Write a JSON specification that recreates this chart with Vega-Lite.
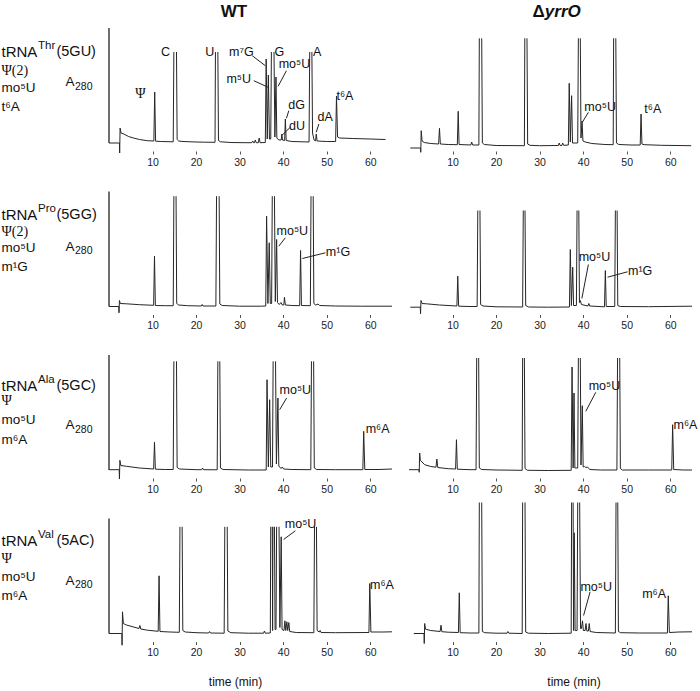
{
"$schema": "https://vega.github.io/schema/vega-lite/v6.json",
"padding": {"left": 1, "top": 3, "right": 0, "bottom": 2},
"background": "white",
"data": {"values": [
{"r":1,"c":"WT","s":0,"t":0,"a":0},{"r":1,"c":"WT","s":0,"t":2.4,"a":0},{"r":1,"c":"WT","s":0,"t":2.45,"a":-10},{"r":1,"c":"WT","s":0,"t":2.55,"a":15},{"r":1,"c":"WT","s":0,"t":2.75,"a":10},{"r":1,"c":"WT","s":0,"t":3.4,"a":9},{"r":1,"c":"WT","s":0,"t":4.5,"a":6.5},{"r":1,"c":"WT","s":0,"t":5.6,"a":5},{"r":1,"c":"WT","s":0,"t":7,"a":3.5},{"r":1,"c":"WT","s":0,"t":8.8,"a":2.3},{"r":1,"c":"WT","s":0,"t":10.3,"a":2},{"r":1,"c":"WT","s":0,"t":10.5,"a":51},{"r":1,"c":"WT","s":0,"t":10.7,"a":1.8},{"r":1,"c":"WT","s":0,"t":12,"a":1.5},{"r":1,"c":"WT","s":0,"t":14.75,"a":1.2},{"r":1,"c":"WT","s":0,"t":14.9,"a":91},
{"r":1,"c":"WT","s":1,"t":15.5,"a":91},{"r":1,"c":"WT","s":1,"t":15.65,"a":3.5},{"r":1,"c":"WT","s":1,"t":16,"a":2},{"r":1,"c":"WT","s":1,"t":17,"a":1.5},{"r":1,"c":"WT","s":1,"t":20,"a":1},{"r":1,"c":"WT","s":1,"t":22,"a":0.8},{"r":1,"c":"WT","s":1,"t":24.35,"a":0.7},{"r":1,"c":"WT","s":1,"t":24.45,"a":91},
{"r":1,"c":"WT","s":2,"t":25.0,"a":91},{"r":1,"c":"WT","s":2,"t":25.15,"a":2.5},{"r":1,"c":"WT","s":2,"t":25.6,"a":1.2},{"r":1,"c":"WT","s":2,"t":28,"a":0.5},{"r":1,"c":"WT","s":2,"t":31,"a":0.3},{"r":1,"c":"WT","s":2,"t":32.8,"a":0.3},{"r":1,"c":"WT","s":2,"t":33.0,"a":2},{"r":1,"c":"WT","s":2,"t":33.2,"a":0.3},{"r":1,"c":"WT","s":2,"t":33.4,"a":0.3},{"r":1,"c":"WT","s":2,"t":33.6,"a":3},{"r":1,"c":"WT","s":2,"t":33.8,"a":0.3},{"r":1,"c":"WT","s":2,"t":34.3,"a":0.3},{"r":1,"c":"WT","s":2,"t":34.5,"a":5},{"r":1,"c":"WT","s":2,"t":34.7,"a":0.3},{"r":1,"c":"WT","s":2,"t":35.9,"a":0.5},{"r":1,"c":"WT","s":2,"t":36.1,"a":84},{"r":1,"c":"WT","s":2,"t":36.35,"a":4},{"r":1,"c":"WT","s":2,"t":36.6,"a":68},{"r":1,"c":"WT","s":2,"t":36.85,"a":4},{"r":1,"c":"WT","s":2,"t":37.15,"a":4},{"r":1,"c":"WT","s":2,"t":37.3,"a":91},
{"r":1,"c":"WT","s":3,"t":37.9,"a":91},{"r":1,"c":"WT","s":3,"t":38.1,"a":6},{"r":1,"c":"WT","s":3,"t":38.35,"a":66},{"r":1,"c":"WT","s":3,"t":38.55,"a":5},{"r":1,"c":"WT","s":3,"t":39.0,"a":3},{"r":1,"c":"WT","s":3,"t":39.55,"a":3},{"r":1,"c":"WT","s":3,"t":39.7,"a":9},{"r":1,"c":"WT","s":3,"t":39.85,"a":3},{"r":1,"c":"WT","s":3,"t":40.35,"a":2.5},{"r":1,"c":"WT","s":3,"t":40.5,"a":24},{"r":1,"c":"WT","s":3,"t":40.7,"a":2.5},{"r":1,"c":"WT","s":3,"t":42,"a":1.5},{"r":1,"c":"WT","s":3,"t":45.95,"a":1},{"r":1,"c":"WT","s":3,"t":46.1,"a":91},
{"r":1,"c":"WT","s":4,"t":46.6,"a":91},{"r":1,"c":"WT","s":4,"t":46.75,"a":10},{"r":1,"c":"WT","s":4,"t":47.1,"a":3},{"r":1,"c":"WT","s":4,"t":47.45,"a":2},{"r":1,"c":"WT","s":4,"t":47.6,"a":9},{"r":1,"c":"WT","s":4,"t":47.8,"a":2},{"r":1,"c":"WT","s":4,"t":50,"a":1.5},{"r":1,"c":"WT","s":4,"t":52.05,"a":1.5},{"r":1,"c":"WT","s":4,"t":52.25,"a":47},{"r":1,"c":"WT","s":4,"t":52.5,"a":6},{"r":1,"c":"WT","s":4,"t":53,"a":5},{"r":1,"c":"WT","s":4,"t":56,"a":4.5},{"r":1,"c":"WT","s":4,"t":60,"a":4},{"r":1,"c":"WT","s":4,"t":63.5,"a":3.5},

{"r":1,"c":"D","s":0,"t":0.3,"a":-5},{"r":1,"c":"D","s":0,"t":2.65,"a":-5},{"r":1,"c":"D","s":0,"t":2.7,"a":-9.3},{"r":1,"c":"D","s":0,"t":2.8,"a":12.3},{"r":1,"c":"D","s":0,"t":3.0,"a":2},{"r":1,"c":"D","s":0,"t":3.5,"a":0.5},{"r":1,"c":"D","s":0,"t":5,"a":-0.5},{"r":1,"c":"D","s":0,"t":6.8,"a":-1},{"r":1,"c":"D","s":0,"t":7.0,"a":14.7},{"r":1,"c":"D","s":0,"t":7.2,"a":-1},{"r":1,"c":"D","s":0,"t":9,"a":-1.5},{"r":1,"c":"D","s":0,"t":11.1,"a":-1.7},{"r":1,"c":"D","s":0,"t":11.3,"a":31.7},{"r":1,"c":"D","s":0,"t":11.5,"a":-1.5},{"r":1,"c":"D","s":0,"t":14.2,"a":-2},{"r":1,"c":"D","s":0,"t":14.4,"a":1},{"r":1,"c":"D","s":0,"t":14.6,"a":-2},{"r":1,"c":"D","s":0,"t":16.05,"a":-2},{"r":1,"c":"D","s":0,"t":16.15,"a":104.7},
{"r":1,"c":"D","s":1,"t":16.7,"a":104.7},{"r":1,"c":"D","s":1,"t":16.85,"a":0},{"r":1,"c":"D","s":1,"t":17.3,"a":-1.5},{"r":1,"c":"D","s":1,"t":20,"a":-2.5},{"r":1,"c":"D","s":1,"t":26.5,"a":-2.7},{"r":1,"c":"D","s":1,"t":26.6,"a":104.7},
{"r":1,"c":"D","s":2,"t":27.1,"a":104.7},{"r":1,"c":"D","s":2,"t":27.25,"a":-1},{"r":1,"c":"D","s":2,"t":27.8,"a":-2.3},{"r":1,"c":"D","s":2,"t":30,"a":-2.7},{"r":1,"c":"D","s":2,"t":34.3,"a":-2.5},{"r":1,"c":"D","s":2,"t":34.5,"a":0},{"r":1,"c":"D","s":2,"t":34.7,"a":-2.5},{"r":1,"c":"D","s":2,"t":35.1,"a":-2.5},{"r":1,"c":"D","s":2,"t":35.3,"a":0},{"r":1,"c":"D","s":2,"t":35.5,"a":-2.3},{"r":1,"c":"D","s":2,"t":36.6,"a":-2},{"r":1,"c":"D","s":2,"t":36.8,"a":59.7},{"r":1,"c":"D","s":2,"t":37.05,"a":1},{"r":1,"c":"D","s":2,"t":37.35,"a":47.3},{"r":1,"c":"D","s":2,"t":37.55,"a":0},{"r":1,"c":"D","s":2,"t":38.75,"a":0},{"r":1,"c":"D","s":2,"t":38.9,"a":104.7},
{"r":1,"c":"D","s":3,"t":39.35,"a":104.7},{"r":1,"c":"D","s":3,"t":39.5,"a":5},{"r":1,"c":"D","s":3,"t":39.75,"a":22},{"r":1,"c":"D","s":3,"t":39.95,"a":2},{"r":1,"c":"D","s":3,"t":40.5,"a":1},{"r":1,"c":"D","s":3,"t":42,"a":-0.5},{"r":1,"c":"D","s":3,"t":45,"a":-1.5},{"r":1,"c":"D","s":3,"t":46.9,"a":-1.7},{"r":1,"c":"D","s":3,"t":47.0,"a":104.7},
{"r":1,"c":"D","s":4,"t":47.5,"a":104.7},{"r":1,"c":"D","s":4,"t":47.65,"a":0},{"r":1,"c":"D","s":4,"t":48.2,"a":-1.5},{"r":1,"c":"D","s":4,"t":51,"a":-2},{"r":1,"c":"D","s":4,"t":53.1,"a":-2},{"r":1,"c":"D","s":4,"t":53.3,"a":29},{"r":1,"c":"D","s":4,"t":53.5,"a":-1},{"r":1,"c":"D","s":4,"t":54,"a":-1.7},{"r":1,"c":"D","s":4,"t":58,"a":-2.3},{"r":1,"c":"D","s":4,"t":64.8,"a":-2.7},

{"r":2,"c":"WT","s":0,"t":0,"a":0},{"r":2,"c":"WT","s":0,"t":2.25,"a":0},{"r":2,"c":"WT","s":0,"t":2.3,"a":-6.3},{"r":2,"c":"WT","s":0,"t":2.4,"a":6},{"r":2,"c":"WT","s":0,"t":2.6,"a":3},{"r":2,"c":"WT","s":0,"t":4,"a":2.7},{"r":2,"c":"WT","s":0,"t":7,"a":1.8},{"r":2,"c":"WT","s":0,"t":10.25,"a":1.2},{"r":2,"c":"WT","s":0,"t":10.45,"a":50.3},{"r":2,"c":"WT","s":0,"t":10.65,"a":1},{"r":2,"c":"WT","s":0,"t":13,"a":0.8},{"r":2,"c":"WT","s":0,"t":14.75,"a":0.8},{"r":2,"c":"WT","s":0,"t":14.9,"a":110.3},
{"r":2,"c":"WT","s":1,"t":15.4,"a":110.3},{"r":2,"c":"WT","s":1,"t":15.55,"a":3},{"r":2,"c":"WT","s":1,"t":16,"a":1.5},{"r":2,"c":"WT","s":1,"t":18,"a":0.8},{"r":2,"c":"WT","s":1,"t":21.2,"a":0.5},{"r":2,"c":"WT","s":1,"t":21.4,"a":2},{"r":2,"c":"WT","s":1,"t":21.6,"a":0.5},{"r":2,"c":"WT","s":1,"t":24.55,"a":0.5},{"r":2,"c":"WT","s":1,"t":24.7,"a":110.3},
{"r":2,"c":"WT","s":2,"t":25.3,"a":110.3},{"r":2,"c":"WT","s":2,"t":25.45,"a":2.5},{"r":2,"c":"WT","s":2,"t":26,"a":1},{"r":2,"c":"WT","s":2,"t":30,"a":0.3},{"r":2,"c":"WT","s":2,"t":35,"a":0.3},{"r":2,"c":"WT","s":2,"t":36.0,"a":0.5},{"r":2,"c":"WT","s":2,"t":36.2,"a":90.3},{"r":2,"c":"WT","s":2,"t":36.5,"a":3},{"r":2,"c":"WT","s":2,"t":36.8,"a":63.7},{"r":2,"c":"WT","s":2,"t":37.05,"a":3},{"r":2,"c":"WT","s":2,"t":37.35,"a":3},{"r":2,"c":"WT","s":2,"t":37.5,"a":110.3},
{"r":2,"c":"WT","s":3,"t":38.0,"a":110.3},{"r":2,"c":"WT","s":3,"t":38.2,"a":5},{"r":2,"c":"WT","s":3,"t":38.5,"a":67},{"r":2,"c":"WT","s":3,"t":38.7,"a":4},{"r":2,"c":"WT","s":3,"t":39.1,"a":2},{"r":2,"c":"WT","s":3,"t":39.5,"a":4},{"r":2,"c":"WT","s":3,"t":39.8,"a":1.5},{"r":2,"c":"WT","s":3,"t":40.15,"a":1.5},{"r":2,"c":"WT","s":3,"t":40.3,"a":9.3},{"r":2,"c":"WT","s":3,"t":40.5,"a":1.5},{"r":2,"c":"WT","s":3,"t":42,"a":1},{"r":2,"c":"WT","s":3,"t":43.8,"a":0.8},{"r":2,"c":"WT","s":3,"t":44.0,"a":56},{"r":2,"c":"WT","s":3,"t":44.2,"a":1},{"r":2,"c":"WT","s":3,"t":46.25,"a":0.8},{"r":2,"c":"WT","s":3,"t":46.4,"a":110.3},
{"r":2,"c":"WT","s":4,"t":46.9,"a":110.3},{"r":2,"c":"WT","s":4,"t":47.05,"a":3},{"r":2,"c":"WT","s":4,"t":47.5,"a":1.5},{"r":2,"c":"WT","s":4,"t":48,"a":2.5},{"r":2,"c":"WT","s":4,"t":48.4,"a":1},{"r":2,"c":"WT","s":4,"t":52,"a":0.5},{"r":2,"c":"WT","s":4,"t":58,"a":0.3},{"r":2,"c":"WT","s":4,"t":65,"a":0.3},

{"r":2,"c":"D","s":0,"t":0.3,"a":-0.7},{"r":2,"c":"D","s":0,"t":2.6,"a":-0.7},{"r":2,"c":"D","s":0,"t":2.65,"a":-7.3},{"r":2,"c":"D","s":0,"t":2.75,"a":6},{"r":2,"c":"D","s":0,"t":3,"a":3},{"r":2,"c":"D","s":0,"t":4,"a":2.7},{"r":2,"c":"D","s":0,"t":7,"a":1.5},{"r":2,"c":"D","s":0,"t":11.0,"a":0.5},{"r":2,"c":"D","s":0,"t":11.2,"a":30.3},{"r":2,"c":"D","s":0,"t":11.4,"a":0.3},{"r":2,"c":"D","s":0,"t":14,"a":0},{"r":2,"c":"D","s":0,"t":15.65,"a":0},{"r":2,"c":"D","s":0,"t":15.8,"a":96},
{"r":2,"c":"D","s":1,"t":16.3,"a":96},{"r":2,"c":"D","s":1,"t":16.45,"a":2},{"r":2,"c":"D","s":1,"t":17,"a":0.5},{"r":2,"c":"D","s":1,"t":20,"a":-0.3},{"r":2,"c":"D","s":1,"t":26.1,"a":-0.5},{"r":2,"c":"D","s":1,"t":26.25,"a":96},
{"r":2,"c":"D","s":2,"t":26.65,"a":96},{"r":2,"c":"D","s":2,"t":26.8,"a":1},{"r":2,"c":"D","s":2,"t":27.5,"a":-0.5},{"r":2,"c":"D","s":2,"t":32,"a":-0.7},{"r":2,"c":"D","s":2,"t":36.85,"a":-0.5},{"r":2,"c":"D","s":2,"t":37.05,"a":57},{"r":2,"c":"D","s":2,"t":37.3,"a":1},{"r":2,"c":"D","s":2,"t":37.6,"a":39.3},{"r":2,"c":"D","s":2,"t":37.8,"a":1},{"r":2,"c":"D","s":2,"t":38.45,"a":1},{"r":2,"c":"D","s":2,"t":38.6,"a":96},
{"r":2,"c":"D","s":3,"t":39.0,"a":96},{"r":2,"c":"D","s":3,"t":39.15,"a":4},{"r":2,"c":"D","s":3,"t":39.35,"a":6},{"r":2,"c":"D","s":3,"t":39.6,"a":2},{"r":2,"c":"D","s":3,"t":41.1,"a":0.5},{"r":2,"c":"D","s":3,"t":41.3,"a":3},{"r":2,"c":"D","s":3,"t":41.5,"a":0.5},{"r":2,"c":"D","s":3,"t":44.9,"a":-0.3},{"r":2,"c":"D","s":3,"t":45.1,"a":36},{"r":2,"c":"D","s":3,"t":45.3,"a":0},{"r":2,"c":"D","s":3,"t":47.25,"a":0},{"r":2,"c":"D","s":3,"t":47.4,"a":96},
{"r":2,"c":"D","s":4,"t":47.8,"a":96},{"r":2,"c":"D","s":4,"t":47.95,"a":1},{"r":2,"c":"D","s":4,"t":48.5,"a":0},{"r":2,"c":"D","s":4,"t":55,"a":-0.2},{"r":2,"c":"D","s":4,"t":65,"a":0.3},

{"r":3,"c":"WT","s":0,"t":0,"a":0.3},{"r":3,"c":"WT","s":0,"t":2.35,"a":0.3},{"r":3,"c":"WT","s":0,"t":2.4,"a":-9},{"r":3,"c":"WT","s":0,"t":2.5,"a":9.7},{"r":3,"c":"WT","s":0,"t":2.7,"a":4.5},{"r":3,"c":"WT","s":0,"t":4,"a":3.7},{"r":3,"c":"WT","s":0,"t":7,"a":2},{"r":3,"c":"WT","s":0,"t":10.25,"a":1},{"r":3,"c":"WT","s":0,"t":10.45,"a":27.7},{"r":3,"c":"WT","s":0,"t":10.65,"a":0.8},{"r":3,"c":"WT","s":0,"t":13,"a":0.5},{"r":3,"c":"WT","s":0,"t":14.75,"a":0.5},{"r":3,"c":"WT","s":0,"t":14.9,"a":108.7},
{"r":3,"c":"WT","s":1,"t":15.5,"a":108.7},{"r":3,"c":"WT","s":1,"t":15.65,"a":2.5},{"r":3,"c":"WT","s":1,"t":16.2,"a":1},{"r":3,"c":"WT","s":1,"t":20,"a":0.3},{"r":3,"c":"WT","s":1,"t":21.3,"a":0.3},{"r":3,"c":"WT","s":1,"t":21.5,"a":2},{"r":3,"c":"WT","s":1,"t":21.7,"a":0.3},{"r":3,"c":"WT","s":1,"t":24.85,"a":0.2},{"r":3,"c":"WT","s":1,"t":25.0,"a":108.7},
{"r":3,"c":"WT","s":2,"t":25.45,"a":108.7},{"r":3,"c":"WT","s":2,"t":25.6,"a":2},{"r":3,"c":"WT","s":2,"t":26.2,"a":0.5},{"r":3,"c":"WT","s":2,"t":32,"a":0},{"r":3,"c":"WT","s":2,"t":36.1,"a":0},{"r":3,"c":"WT","s":2,"t":36.3,"a":90.3},{"r":3,"c":"WT","s":2,"t":36.6,"a":3},{"r":3,"c":"WT","s":2,"t":36.9,"a":70.3},{"r":3,"c":"WT","s":2,"t":37.15,"a":3},{"r":3,"c":"WT","s":2,"t":37.55,"a":3},{"r":3,"c":"WT","s":2,"t":37.7,"a":108.7},
{"r":3,"c":"WT","s":3,"t":38.25,"a":108.7},{"r":3,"c":"WT","s":3,"t":38.45,"a":6},{"r":3,"c":"WT","s":3,"t":38.8,"a":72},{"r":3,"c":"WT","s":3,"t":39.0,"a":4},{"r":3,"c":"WT","s":3,"t":39.5,"a":1.5},{"r":3,"c":"WT","s":3,"t":39.8,"a":3},{"r":3,"c":"WT","s":3,"t":40.1,"a":1},{"r":3,"c":"WT","s":3,"t":42,"a":0.5},{"r":3,"c":"WT","s":3,"t":46.35,"a":0.3},{"r":3,"c":"WT","s":3,"t":46.5,"a":108.7},
{"r":3,"c":"WT","s":4,"t":47.0,"a":108.7},{"r":3,"c":"WT","s":4,"t":47.15,"a":2},{"r":3,"c":"WT","s":4,"t":47.7,"a":0.5},{"r":3,"c":"WT","s":4,"t":52,"a":0.3},{"r":3,"c":"WT","s":4,"t":58.3,"a":0.3},{"r":3,"c":"WT","s":4,"t":58.5,"a":38.7},{"r":3,"c":"WT","s":4,"t":58.75,"a":0.5},{"r":3,"c":"WT","s":4,"t":62,"a":0.5},{"r":3,"c":"WT","s":4,"t":65,"a":1},

{"r":3,"c":"D","s":0,"t":0,"a":0.3},{"r":3,"c":"D","s":0,"t":2.3,"a":0.3},{"r":3,"c":"D","s":0,"t":2.35,"a":-2.3},{"r":3,"c":"D","s":0,"t":2.45,"a":17},{"r":3,"c":"D","s":0,"t":2.6,"a":9.7},{"r":3,"c":"D","s":0,"t":3.6,"a":5.3},{"r":3,"c":"D","s":0,"t":5,"a":3.5},{"r":3,"c":"D","s":0,"t":6.2,"a":2.8},{"r":3,"c":"D","s":0,"t":6.4,"a":11},{"r":3,"c":"D","s":0,"t":6.6,"a":2.5},{"r":3,"c":"D","s":0,"t":9,"a":1.3},{"r":3,"c":"D","s":0,"t":10.7,"a":1},{"r":3,"c":"D","s":0,"t":10.9,"a":30.3},{"r":3,"c":"D","s":0,"t":11.1,"a":0.8},{"r":3,"c":"D","s":0,"t":14,"a":0.3},{"r":3,"c":"D","s":0,"t":15.4,"a":0.3},{"r":3,"c":"D","s":0,"t":15.55,"a":112},
{"r":3,"c":"D","s":1,"t":16.0,"a":112},{"r":3,"c":"D","s":1,"t":16.15,"a":2},{"r":3,"c":"D","s":1,"t":16.7,"a":0.5},{"r":3,"c":"D","s":1,"t":20,"a":0},{"r":3,"c":"D","s":1,"t":26.0,"a":-0.3},{"r":3,"c":"D","s":1,"t":26.1,"a":112},
{"r":3,"c":"D","s":2,"t":26.5,"a":112},{"r":3,"c":"D","s":2,"t":26.65,"a":1.5},{"r":3,"c":"D","s":2,"t":27.2,"a":-0.3},{"r":3,"c":"D","s":2,"t":32,"a":-0.5},{"r":3,"c":"D","s":2,"t":37.25,"a":-0.3},{"r":3,"c":"D","s":2,"t":37.45,"a":103},{"r":3,"c":"D","s":2,"t":37.7,"a":2},{"r":3,"c":"D","s":2,"t":37.9,"a":77},{"r":3,"c":"D","s":2,"t":38.1,"a":2},{"r":3,"c":"D","s":2,"t":38.75,"a":2},{"r":3,"c":"D","s":2,"t":38.9,"a":112},
{"r":3,"c":"D","s":3,"t":39.35,"a":112},{"r":3,"c":"D","s":3,"t":39.5,"a":5},{"r":3,"c":"D","s":3,"t":39.8,"a":64.3},{"r":3,"c":"D","s":3,"t":40.0,"a":3},{"r":3,"c":"D","s":3,"t":40.3,"a":3.5},{"r":3,"c":"D","s":3,"t":40.6,"a":2.5},{"r":3,"c":"D","s":3,"t":41,"a":3},{"r":3,"c":"D","s":3,"t":41.5,"a":0.5},{"r":3,"c":"D","s":3,"t":44,"a":0},{"r":3,"c":"D","s":3,"t":47.75,"a":0},{"r":3,"c":"D","s":3,"t":47.9,"a":112},
{"r":3,"c":"D","s":4,"t":48.4,"a":112},{"r":3,"c":"D","s":4,"t":48.55,"a":1.5},{"r":3,"c":"D","s":4,"t":49,"a":0},{"r":3,"c":"D","s":4,"t":55,"a":0},{"r":3,"c":"D","s":4,"t":60.35,"a":0},{"r":3,"c":"D","s":4,"t":60.55,"a":45.3},{"r":3,"c":"D","s":4,"t":60.8,"a":0.5},{"r":3,"c":"D","s":4,"t":63,"a":0},{"r":3,"c":"D","s":4,"t":65,"a":0},

{"r":4,"c":"WT","s":0,"t":0,"a":0},{"r":4,"c":"WT","s":0,"t":2.95,"a":0},{"r":4,"c":"WT","s":0,"t":3.0,"a":-11.7},{"r":4,"c":"WT","s":0,"t":3.1,"a":21.7},{"r":4,"c":"WT","s":0,"t":3.3,"a":10},{"r":4,"c":"WT","s":0,"t":4.0,"a":8.5},{"r":4,"c":"WT","s":0,"t":5.5,"a":6.7},{"r":4,"c":"WT","s":0,"t":6.9,"a":5},{"r":4,"c":"WT","s":0,"t":7.1,"a":8},{"r":4,"c":"WT","s":0,"t":7.3,"a":4.5},{"r":4,"c":"WT","s":0,"t":8.8,"a":3.3},{"r":4,"c":"WT","s":0,"t":11.3,"a":2.2},{"r":4,"c":"WT","s":0,"t":11.5,"a":57.7},{"r":4,"c":"WT","s":0,"t":11.7,"a":2},{"r":4,"c":"WT","s":0,"t":14,"a":1.5},{"r":4,"c":"WT","s":0,"t":16.15,"a":1.2},{"r":4,"c":"WT","s":0,"t":16.3,"a":106.7},
{"r":4,"c":"WT","s":1,"t":16.8,"a":106.7},{"r":4,"c":"WT","s":1,"t":16.95,"a":3},{"r":4,"c":"WT","s":1,"t":17.5,"a":1.5},{"r":4,"c":"WT","s":1,"t":20,"a":0.8},{"r":4,"c":"WT","s":1,"t":22.9,"a":0.5},{"r":4,"c":"WT","s":1,"t":23.1,"a":2},{"r":4,"c":"WT","s":1,"t":23.3,"a":0.5},{"r":4,"c":"WT","s":1,"t":26.45,"a":0.3},{"r":4,"c":"WT","s":1,"t":26.6,"a":106.7},
{"r":4,"c":"WT","s":2,"t":27.15,"a":106.7},{"r":4,"c":"WT","s":2,"t":27.3,"a":2.5},{"r":4,"c":"WT","s":2,"t":28,"a":0.8},{"r":4,"c":"WT","s":2,"t":32,"a":0.3},{"r":4,"c":"WT","s":2,"t":35.5,"a":0.3},{"r":4,"c":"WT","s":2,"t":35.7,"a":2.5},{"r":4,"c":"WT","s":2,"t":35.9,"a":0.3},{"r":4,"c":"WT","s":2,"t":37.05,"a":0.5},{"r":4,"c":"WT","s":2,"t":37.15,"a":106.7},
{"r":4,"c":"WT","s":3,"t":37.5,"a":106.7},{"r":4,"c":"WT","s":3,"t":37.58,"a":3},{"r":4,"c":"WT","s":3,"t":37.65,"a":106.7},
{"r":4,"c":"WT","s":4,"t":38.0,"a":106.7},{"r":4,"c":"WT","s":4,"t":38.15,"a":4},{"r":4,"c":"WT","s":4,"t":38.35,"a":4},{"r":4,"c":"WT","s":4,"t":38.5,"a":106.7},
{"r":4,"c":"WT","s":5,"t":39.05,"a":106.7},{"r":4,"c":"WT","s":5,"t":39.25,"a":6},{"r":4,"c":"WT","s":5,"t":39.55,"a":96.7},{"r":4,"c":"WT","s":5,"t":39.75,"a":4},{"r":4,"c":"WT","s":5,"t":40.2,"a":3},{"r":4,"c":"WT","s":5,"t":40.4,"a":12.7},{"r":4,"c":"WT","s":5,"t":40.6,"a":3},{"r":4,"c":"WT","s":5,"t":40.85,"a":11.7},{"r":4,"c":"WT","s":5,"t":41.05,"a":3},{"r":4,"c":"WT","s":5,"t":41.3,"a":11},{"r":4,"c":"WT","s":5,"t":41.5,"a":2},{"r":4,"c":"WT","s":5,"t":43,"a":1},{"r":4,"c":"WT","s":5,"t":47.05,"a":0.8},{"r":4,"c":"WT","s":5,"t":47.2,"a":106.7},
{"r":4,"c":"WT","s":6,"t":47.65,"a":106.7},{"r":4,"c":"WT","s":6,"t":47.8,"a":3},{"r":4,"c":"WT","s":6,"t":48.3,"a":1.5},{"r":4,"c":"WT","s":6,"t":48.5,"a":3},{"r":4,"c":"WT","s":6,"t":48.7,"a":1},{"r":4,"c":"WT","s":6,"t":52,"a":0.8},{"r":4,"c":"WT","s":6,"t":59.7,"a":1},{"r":4,"c":"WT","s":6,"t":59.9,"a":50},{"r":4,"c":"WT","s":6,"t":60.15,"a":1.5},{"r":4,"c":"WT","s":6,"t":63,"a":1.5},{"r":4,"c":"WT","s":6,"t":65,"a":1.7},

{"r":4,"c":"D","s":0,"t":1.1,"a":0},{"r":4,"c":"D","s":0,"t":3.45,"a":0},{"r":4,"c":"D","s":0,"t":3.5,"a":-10},{"r":4,"c":"D","s":0,"t":3.6,"a":10},{"r":4,"c":"D","s":0,"t":3.8,"a":4.3},{"r":4,"c":"D","s":0,"t":5,"a":3},{"r":4,"c":"D","s":0,"t":7.15,"a":2},{"r":4,"c":"D","s":0,"t":7.35,"a":8.3},{"r":4,"c":"D","s":0,"t":7.55,"a":1.8},{"r":4,"c":"D","s":0,"t":9,"a":1.3},{"r":4,"c":"D","s":0,"t":11.35,"a":1},{"r":4,"c":"D","s":0,"t":11.55,"a":40.7},{"r":4,"c":"D","s":0,"t":11.75,"a":0.8},{"r":4,"c":"D","s":0,"t":14,"a":0.5},{"r":4,"c":"D","s":0,"t":16.05,"a":0.5},{"r":4,"c":"D","s":0,"t":16.15,"a":131},
{"r":4,"c":"D","s":1,"t":16.7,"a":131},{"r":4,"c":"D","s":1,"t":16.85,"a":2},{"r":4,"c":"D","s":1,"t":17.4,"a":0.8},{"r":4,"c":"D","s":1,"t":20,"a":0.3},{"r":4,"c":"D","s":1,"t":22.5,"a":0.3},{"r":4,"c":"D","s":1,"t":22.7,"a":2},{"r":4,"c":"D","s":1,"t":22.9,"a":0.3},{"r":4,"c":"D","s":1,"t":26.0,"a":0},{"r":4,"c":"D","s":1,"t":26.1,"a":131},
{"r":4,"c":"D","s":2,"t":26.65,"a":131},{"r":4,"c":"D","s":2,"t":26.8,"a":1.5},{"r":4,"c":"D","s":2,"t":27.4,"a":0.3},{"r":4,"c":"D","s":2,"t":32,"a":0},{"r":4,"c":"D","s":2,"t":37.25,"a":0.3},{"r":4,"c":"D","s":2,"t":37.35,"a":131},
{"r":4,"c":"D","s":3,"t":37.7,"a":131},{"r":4,"c":"D","s":3,"t":37.8,"a":3},{"r":4,"c":"D","s":3,"t":37.95,"a":100.7},{"r":4,"c":"D","s":3,"t":38.15,"a":3},{"r":4,"c":"D","s":3,"t":38.6,"a":3},{"r":4,"c":"D","s":3,"t":38.75,"a":131},
{"r":4,"c":"D","s":4,"t":39.2,"a":131},{"r":4,"c":"D","s":4,"t":39.4,"a":5},{"r":4,"c":"D","s":4,"t":39.6,"a":5},{"r":4,"c":"D","s":4,"t":39.85,"a":12.7},{"r":4,"c":"D","s":4,"t":40.05,"a":3},{"r":4,"c":"D","s":4,"t":40.45,"a":3},{"r":4,"c":"D","s":4,"t":40.65,"a":10},{"r":4,"c":"D","s":4,"t":40.85,"a":2.5},{"r":4,"c":"D","s":4,"t":41.2,"a":2.5},{"r":4,"c":"D","s":4,"t":41.4,"a":10},{"r":4,"c":"D","s":4,"t":41.6,"a":2},{"r":4,"c":"D","s":4,"t":43,"a":1},{"r":4,"c":"D","s":4,"t":47.4,"a":0.5},{"r":4,"c":"D","s":4,"t":47.55,"a":131},
{"r":4,"c":"D","s":5,"t":47.95,"a":131},{"r":4,"c":"D","s":5,"t":48.1,"a":2},{"r":4,"c":"D","s":5,"t":48.6,"a":0.8},{"r":4,"c":"D","s":5,"t":53,"a":0.5},{"r":4,"c":"D","s":5,"t":59.35,"a":0.5},{"r":4,"c":"D","s":5,"t":59.55,"a":37.7},{"r":4,"c":"D","s":5,"t":59.8,"a":1},{"r":4,"c":"D","s":5,"t":62,"a":1.5},{"r":4,"c":"D","s":5,"t":65,"a":1.7},

{"r":1,"c":"WT","k":"ax","t":0,"a":0,"a2":115},{"r":2,"c":"WT","k":"ax","t":0,"a":0,"a2":115},{"r":3,"c":"WT","k":"ax","t":0,"a":0,"a2":115},{"r":4,"c":"WT","k":"ax","t":0,"a":0,"a2":115},

{"r":1,"c":"WT","k":"ld","t":32.9,"a":87.3,"t2":35.9,"a2":77.3},
{"r":1,"c":"WT","k":"ld","t":33.25,"a":62.3,"t2":36.55,"a2":55.7},
{"r":1,"c":"WT","k":"ld","t":40.75,"a":72.3,"t2":38.85,"a2":56.7},
{"r":1,"c":"WT","k":"ld","t":41.3,"a":32.3,"t2":40.75,"a2":24.7},
{"r":1,"c":"WT","k":"ld","t":41.7,"a":16,"t2":39.8,"a2":8},
{"r":1,"c":"WT","k":"ld","t":48.2,"a":19,"t2":47.6,"a2":10.7},
{"r":1,"c":"D","k":"ld","t":41.2,"a":30.7,"t2":39.85,"a2":21},
{"r":2,"c":"WT","k":"ld","t":40.5,"a":68.7,"t2":39.0,"a2":60.3},
{"r":2,"c":"WT","k":"ld","t":49.7,"a":53.7,"t2":44.4,"a2":48},
{"r":2,"c":"D","k":"ld","t":41.2,"a":42,"t2":39.7,"a2":8},
{"r":2,"c":"D","k":"ld","t":50.2,"a":34.7,"t2":45.6,"a2":29.3},
{"r":3,"c":"WT","k":"ld","t":40.8,"a":72,"t2":39.2,"a2":60.3},
{"r":3,"c":"D","k":"ld","t":42.9,"a":77.7,"t2":40.6,"a2":58.7},
{"r":4,"c":"WT","k":"ld","t":42.8,"a":102.7,"t2":40.1,"a2":94},
{"r":4,"c":"D","k":"ld","t":41.6,"a":41.7,"t2":40.1,"a2":18},

{"r":1,"c":"WT","k":"pk","t":13.0,"a":91,"txt":"C"},
{"r":1,"c":"WT","k":"pk","t":23.15,"a":91,"txt":"U"},
{"r":1,"c":"WT","k":"pk","t":30.4,"a":90.7,"txt":"m⁷G"},
{"r":1,"c":"WT","k":"pk","t":29.8,"a":64,"txt":"m⁵U"},
{"r":1,"c":"WT","k":"pk","t":39.1,"a":91,"txt":"G"},
{"r":1,"c":"WT","k":"pk","t":42.6,"a":79,"txt":"mo⁵U"},
{"r":1,"c":"WT","k":"pk","t":43.1,"a":38,"txt":"dG"},
{"r":1,"c":"WT","k":"pk","t":43.2,"a":17,"txt":"dU"},
{"r":1,"c":"WT","k":"pk","t":47.8,"a":91,"txt":"A"},
{"r":1,"c":"WT","k":"pk","t":49.65,"a":26,"txt":"dA"},
{"r":1,"c":"WT","k":"pk","t":54.2,"a":47.3,"txt":"t⁶A"},
{"r":1,"c":"WT","k":"psi","t":7.23,"a":49,"txt":"Ψ"},
{"r":1,"c":"D","k":"pk","t":43.9,"a":35.7,"txt":"mo⁵U"},
{"r":1,"c":"D","k":"pk","t":56,"a":34,"txt":"t⁶A"},
{"r":2,"c":"WT","k":"pk","t":42.1,"a":76,"txt":"mo⁵U"},
{"r":2,"c":"WT","k":"pk","t":52.6,"a":54.5,"txt":"m¹G"},
{"r":2,"c":"D","k":"pk","t":42.6,"a":49.3,"txt":"mo⁵U"},
{"r":2,"c":"D","k":"pk","t":53.1,"a":36,"txt":"m¹G"},
{"r":3,"c":"WT","k":"pk","t":42.8,"a":79.7,"txt":"mo⁵U"},
{"r":3,"c":"WT","k":"pk","t":61.7,"a":41.3,"txt":"m⁶A"},
{"r":3,"c":"D","k":"pk","t":44.9,"a":84.3,"txt":"mo⁵U"},
{"r":3,"c":"D","k":"pk","t":63.5,"a":45.3,"txt":"m⁶A"},
{"r":4,"c":"WT","k":"pk","t":44,"a":110,"txt":"mo⁵U"},
{"r":4,"c":"WT","k":"pk","t":62.7,"a":48.3,"txt":"m⁶A"},
{"r":4,"c":"D","k":"pk","t":43.0,"a":46.5,"txt":"mo⁵U"},
{"r":4,"c":"D","k":"pk","t":56.3,"a":40,"txt":"m⁶A"},

{"r":1,"c":"WT","k":"trna","t":-24.7,"a":91,"sup":"Thr","tail":"(5GU)"},
{"r":2,"c":"WT","k":"trna","t":-24.7,"a":92,"sup":"Pro","tail":"(5GG)"},
{"r":3,"c":"WT","k":"trna","t":-24.7,"a":84,"sup":"Ala","tail":"(5GC)"},
{"r":4,"c":"WT","k":"trna","t":-24.7,"a":93,"sup":"Val","tail":"(5AC)"},
{"r":1,"c":"WT","k":"mpsi","t":-24.7,"a":72,"txt":"Ψ(2)"},
{"r":1,"c":"WT","k":"mod","t":-24.7,"a":55,"txt":"mo⁵U"},
{"r":1,"c":"WT","k":"mod","t":-24.7,"a":36,"txt":"t⁶A"},
{"r":2,"c":"WT","k":"mpsi","t":-24.7,"a":75,"txt":"Ψ(2)"},
{"r":2,"c":"WT","k":"mod","t":-24.7,"a":59,"txt":"mo⁵U"},
{"r":2,"c":"WT","k":"mod","t":-24.7,"a":40,"txt":"m¹G"},
{"r":3,"c":"WT","k":"mpsi","t":-24.7,"a":69,"txt":"Ψ"},
{"r":3,"c":"WT","k":"mod","t":-24.7,"a":50,"txt":"mo⁵U"},
{"r":3,"c":"WT","k":"mod","t":-24.7,"a":30,"txt":"m⁶A"},
{"r":4,"c":"WT","k":"mpsi","t":-24.7,"a":75,"txt":"Ψ"},
{"r":4,"c":"WT","k":"mod","t":-24.7,"a":57,"txt":"mo⁵U"},
{"r":4,"c":"WT","k":"mod","t":-24.7,"a":38,"txt":"m⁶A"},
{"r":1,"c":"WT","k":"abs","t":-10,"a":61},
{"r":2,"c":"WT","k":"abs","t":-10,"a":60},
{"r":3,"c":"WT","k":"abs","t":-10,"a":45},
{"r":4,"c":"WT","k":"abs","t":-10,"a":53},

{"r":1,"c":"WT","k":"h","t":28.7,"a":130.7,"txt":"WT"},
{"r":1,"c":"D","k":"hd","t":31.2,"a":130.7,"txt":"Δ"},
{"r":1,"c":"D","k":"hi","t":31.2,"a":130.7,"txt":"yrrO"},
{"r":4,"c":"WT","k":"xt","t":29.05,"a":-48,"txt":"time (min)"},
{"r":4,"c":"D","k":"xt","t":37.9,"a":-48,"txt":"time (min)"}
]},
"facet": {
  "row": {"field": "r", "type": "ordinal", "header": null},
  "column": {"field": "c", "type": "nominal", "sort": ["WT", "D"], "header": null}
},
"spacing": {"row": 39.5, "column": 17},
"bounds": "flush",
"resolve": {"axis": {"x": "independent"}},
"spec": {
  "width": 283,
  "height": 124,
  "layer": [
    {
      "transform": [{"filter": "isValid(datum.s)"}],
      "mark": {"type": "line", "stroke": "#262626", "strokeWidth": 1, "strokeJoin": "round"},
      "encoding": {
        "x": {"field": "t", "type": "quantitative",
              "scale": {"domain": [0, 65], "nice": false, "zero": false},
              "axis": {"values": [10, 20, 30, 40, 50, 60], "domain": false, "grid": false, "tickSize": 3, "tickColor": "#555", "labelFontSize": 10.5, "labelColor": "#222", "labelPadding": 3, "title": null, "labelFont": "Liberation Sans"}},
        "y": {"field": "a", "type": "quantitative",
              "scale": {"domain": [-8, 116], "nice": false, "zero": false},
              "axis": null},
        "detail": {"field": "s", "type": "nominal"}
      }
    },
    {
      "transform": [{"filter": "datum.k == 'ax'"}],
      "mark": {"type": "rule", "stroke": "#333", "strokeWidth": 1.4},
      "encoding": {
        "x": {"field": "t", "type": "quantitative"},
        "y": {"field": "a", "type": "quantitative"},
        "y2": {"field": "a2"}
      }
    },
    {
      "transform": [{"filter": "datum.k == 'ld'"}],
      "mark": {"type": "rule", "stroke": "#222", "strokeWidth": 1},
      "encoding": {
        "x": {"field": "t", "type": "quantitative"},
        "y": {"field": "a", "type": "quantitative"},
        "x2": {"field": "t2"},
        "y2": {"field": "a2"}
      }
    },
    {
      "transform": [{"filter": "datum.k == 'pk'"}],
      "mark": {"type": "text", "align": "center", "baseline": "middle", "fontSize": 12.5, "font": "Liberation Sans", "color": "#111"},
      "encoding": {"x": {"field": "t", "type": "quantitative"}, "y": {"field": "a", "type": "quantitative"}, "text": {"field": "txt"}}
    },
    {
      "transform": [{"filter": "datum.k == 'psi'"}],
      "mark": {"type": "text", "align": "center", "baseline": "middle", "fontSize": 14, "font": "Liberation Serif", "color": "#111"},
      "encoding": {"x": {"field": "t", "type": "quantitative"}, "y": {"field": "a", "type": "quantitative"}, "text": {"field": "txt"}}
    },
    {
      "transform": [{"filter": "datum.k == 'mod'"}],
      "mark": {"type": "text", "align": "left", "baseline": "middle", "fontSize": 13.5, "font": "Liberation Sans", "color": "#111"},
      "encoding": {"x": {"field": "t", "type": "quantitative"}, "y": {"field": "a", "type": "quantitative"}, "text": {"field": "txt"}}
    },
    {
      "transform": [{"filter": "datum.k == 'mpsi'"}],
      "mark": {"type": "text", "align": "left", "baseline": "middle", "fontSize": 14, "font": "Liberation Serif", "color": "#111"},
      "encoding": {"x": {"field": "t", "type": "quantitative"}, "y": {"field": "a", "type": "quantitative"}, "text": {"field": "txt"}}
    },
    {
      "transform": [{"filter": "datum.k == 'trna'"}],
      "mark": {"type": "text", "align": "left", "baseline": "middle", "fontSize": 15, "font": "Liberation Sans", "color": "#111"},
      "encoding": {"x": {"field": "t", "type": "quantitative"}, "y": {"field": "a", "type": "quantitative"}, "text": {"value": "tRNA"}}
    },
    {
      "transform": [{"filter": "datum.k == 'trna'"}],
      "mark": {"type": "text", "align": "left", "baseline": "middle", "fontSize": 11.5, "font": "Liberation Sans", "color": "#111", "dx": 36.5, "dy": -6},
      "encoding": {"x": {"field": "t", "type": "quantitative"}, "y": {"field": "a", "type": "quantitative"}, "text": {"field": "sup"}}
    },
    {
      "transform": [{"filter": "datum.k == 'trna'"}],
      "mark": {"type": "text", "align": "left", "baseline": "middle", "fontSize": 14.5, "font": "Liberation Sans", "color": "#111", "dx": 55},
      "encoding": {"x": {"field": "t", "type": "quantitative"}, "y": {"field": "a", "type": "quantitative"}, "text": {"field": "tail"}}
    },
    {
      "transform": [{"filter": "datum.k == 'abs'"}],
      "mark": {"type": "text", "align": "left", "baseline": "middle", "fontSize": 13.5, "font": "Liberation Sans", "color": "#111"},
      "encoding": {"x": {"field": "t", "type": "quantitative"}, "y": {"field": "a", "type": "quantitative"}, "text": {"value": "A"}}
    },
    {
      "transform": [{"filter": "datum.k == 'abs'"}],
      "mark": {"type": "text", "align": "left", "baseline": "middle", "fontSize": 10.5, "font": "Liberation Sans", "color": "#111", "dx": 9.5, "dy": 4.5},
      "encoding": {"x": {"field": "t", "type": "quantitative"}, "y": {"field": "a", "type": "quantitative"}, "text": {"value": "280"}}
    },
    {
      "transform": [{"filter": "datum.k == 'h'"}],
      "mark": {"type": "text", "align": "center", "baseline": "middle", "fontSize": 17, "fontWeight": "bold", "font": "Liberation Sans", "color": "#111"},
      "encoding": {"x": {"field": "t", "type": "quantitative"}, "y": {"field": "a", "type": "quantitative"}, "text": {"field": "txt"}}
    },
    {
      "transform": [{"filter": "datum.k == 'hd'"}],
      "mark": {"type": "text", "align": "right", "baseline": "middle", "fontSize": 17, "fontWeight": "bold", "font": "Liberation Sans", "color": "#111"},
      "encoding": {"x": {"field": "t", "type": "quantitative"}, "y": {"field": "a", "type": "quantitative"}, "text": {"field": "txt"}}
    },
    {
      "transform": [{"filter": "datum.k == 'hi'"}],
      "mark": {"type": "text", "align": "left", "baseline": "middle", "fontSize": 17, "fontWeight": "bold", "fontStyle": "italic", "font": "Liberation Sans", "color": "#111"},
      "encoding": {"x": {"field": "t", "type": "quantitative"}, "y": {"field": "a", "type": "quantitative"}, "text": {"field": "txt"}}
    },
    {
      "transform": [{"filter": "datum.k == 'xt'"}],
      "mark": {"type": "text", "align": "center", "baseline": "middle", "fontSize": 12, "font": "Liberation Sans", "color": "#111"},
      "encoding": {"x": {"field": "t", "type": "quantitative"}, "y": {"field": "a", "type": "quantitative"}, "text": {"field": "txt"}}
    }
  ]
},
"config": {"view": {"stroke": null}, "font": "Liberation Sans"}
}
